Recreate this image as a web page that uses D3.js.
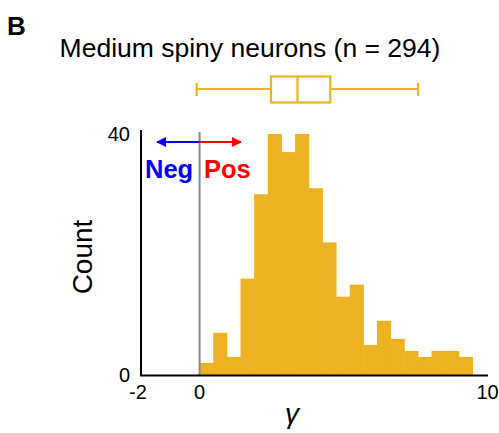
<!DOCTYPE html>
<html><head><meta charset="utf-8">
<script src="https://cdn.jsdelivr.net/npm/d3@7"></script>
<style>body{margin:0;background:#fff}svg{display:block;font-family:"Liberation Sans",Arial,sans-serif}</style>
</head><body><svg id="c" width="499" height="433"></svg>
<script>
const binWidth = 0.474;
const counts = [2,7,3,16,30,40,37,40,31,22,13,15,5,9,6,4,3,4,4,3];
const boxStats = {min:-0.1, q1:2.48, median:3.4, q3:4.54, max:7.59};
const xTicks = [-2, 0, 10];
const yTicks = [0, 40];
const color = "#ECB222";

const svg = d3.select("#c");
const x = d3.scaleLinear().domain([-2, 10]).range([142, 487.5]);
const y = d3.scaleLinear().domain([0, 40]).range([375, 134]);

const bins = counts.map((c,i)=>({x0:i*binWidth, x1:(i+1)*binWidth, c}));
svg.append("g").selectAll("rect").data(bins).join("rect")
  .attr("x", d=>x(d.x0)).attr("width", d=>x(d.x1)-x(d.x0)+0.5)
  .attr("y", d=>y(d.c)).attr("height", d=>y(0)-y(d.c))
  .attr("fill", color);

// zero line
svg.append("line").attr("x1",x(0)).attr("x2",x(0)).attr("y1",132).attr("y2",375)
  .attr("stroke","#8a8a8a").attr("stroke-width",2);

// axes
svg.append("line").attr("x1",141).attr("x2",141).attr("y1",130).attr("y2",376)
  .attr("stroke","#000").attr("stroke-width",2);
svg.append("line").attr("x1",140).attr("x2",488).attr("y1",375.5).attr("y2",375.5)
  .attr("stroke","#000").attr("stroke-width",2);

svg.append("g").selectAll("text").data(xTicks).join("text")
  .attr("x", d=>x(d)+(d<0?-4:0)).attr("y", 398.5).attr("text-anchor","middle")
  .attr("font-size",20).text(d=>d);
svg.append("g").selectAll("text").data(yTicks).join("text")
  .attr("x", 130).attr("y", d=>y(d)+7).attr("text-anchor","end")
  .attr("font-size",20).text(d=>d);

svg.append("text").attr("transform","translate(92,257) rotate(-90)")
  .attr("text-anchor","middle").attr("font-size",28).text("Count");
svg.append("text").attr("x",292).attr("y",423).attr("text-anchor","middle")
  .attr("font-size",28).attr("font-style","italic").text("γ");

// arrows
const defs = svg.append("defs");
[["ab","#0000ff"],["ar","#ff0000"]].forEach(([id,c])=>{
  defs.append("marker").attr("id",id).attr("viewBox","0 0 10 10").attr("refX",9).attr("refY",5)
    .attr("markerWidth",5).attr("markerHeight",5).attr("orient","auto")
    .append("path").attr("d","M0,0L10,5L0,10z").attr("fill",c);
});
svg.append("line").attr("x1",x(0)).attr("x2",157).attr("y1",142).attr("y2",142)
  .attr("stroke","#0000ff").attr("stroke-width",2).attr("marker-end","url(#ab)");
svg.append("line").attr("x1",x(0)).attr("x2",241).attr("y1",142).attr("y2",142)
  .attr("stroke","#ff0000").attr("stroke-width",2).attr("marker-end","url(#ar)");
svg.append("text").attr("x",145).attr("y",178).attr("font-size",25.5).attr("font-weight","bold")
  .attr("fill","#0000ff").text("Neg");
svg.append("text").attr("x",204).attr("y",178).attr("font-size",25.5).attr("font-weight","bold")
  .attr("fill","#ff0000").text("Pos");

// boxplot
const by = 89;
const g = svg.append("g").attr("stroke",color).attr("stroke-width",2.2).attr("fill","none");
g.append("line").attr("x1",x(boxStats.min)).attr("x2",x(boxStats.q1)).attr("y1",by).attr("y2",by);
g.append("line").attr("x1",x(boxStats.q3)).attr("x2",x(boxStats.max)).attr("y1",by).attr("y2",by);
g.append("line").attr("x1",x(boxStats.min)).attr("x2",x(boxStats.min)).attr("y1",83).attr("y2",96);
g.append("line").attr("x1",x(boxStats.max)).attr("x2",x(boxStats.max)).attr("y1",83).attr("y2",96);
g.append("rect").attr("x",x(boxStats.q1)).attr("width",x(boxStats.q3)-x(boxStats.q1))
  .attr("y",76.5).attr("height",26);
g.append("line").attr("x1",x(boxStats.median)).attr("x2",x(boxStats.median)).attr("y1",76.5).attr("y2",102.5);

svg.append("text").attr("x",250).attr("y",57).attr("text-anchor","middle").attr("font-size",26.5)
  .text("Medium spiny neurons (n = 294)");
svg.append("text").attr("x",7).attr("y",35).attr("font-size",26).attr("font-weight","bold").text("B");
</script></body></html>
